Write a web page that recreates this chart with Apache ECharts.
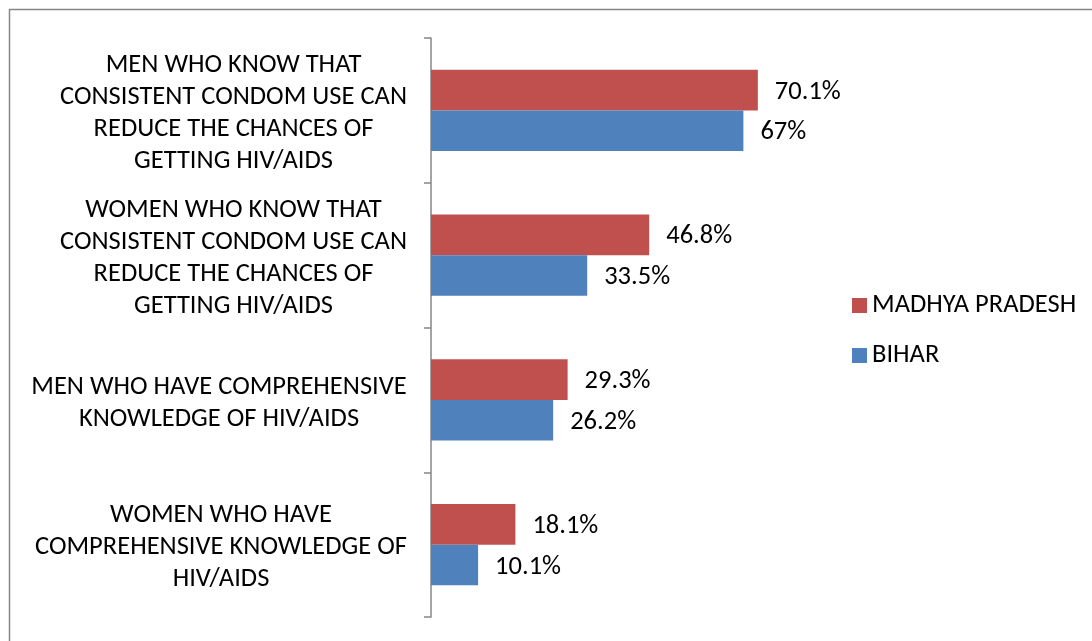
<!DOCTYPE html>
<html><head><meta charset="utf-8">
<script src="https://cdn.jsdelivr.net/npm/echarts@6/dist/echarts.min.js"></script>
<style>html,body{margin:0;padding:0;background:#fff}#c{width:1092px;height:641px}</style>
</head><body><div id="c"></div>
<script>
const categories = [
  "MEN WHO KNOW THAT\nCONSISTENT CONDOM USE CAN\nREDUCE THE CHANCES OF\nGETTING HIV/AIDS",
  "WOMEN WHO KNOW THAT\nCONSISTENT CONDOM USE CAN\nREDUCE THE CHANCES OF\nGETTING HIV/AIDS",
  "MEN WHO HAVE COMPREHENSIVE\nKNOWLEDGE OF HIV/AIDS",
  "WOMEN WHO HAVE\nCOMPREHENSIVE KNOWLEDGE OF\nHIV/AIDS"
];
const seriesNames = ["MADHYA PRADESH", "BIHAR"];
const madhyaPradesh = [70.1, 46.8, 29.3, 18.1];
const bihar = [67, 33.5, 26.2, 10.1];

const FONT = "Carlito, Calibri, 'Open Sans', sans-serif";
const FS = 26.5;
const ctx = document.createElement('canvas').getContext('2d');
ctx.font = FS + 'px ' + FONT;
const rich = {};
categories.forEach((c, i) => {
  const w = Math.max(...c.split('\n').map(l => ctx.measureText(l).width));
  rich['w' + i] = { width: Math.ceil(w), align: 'center', fontSize: FS, fontFamily: FONT, color: '#000', lineHeight: 32 };
});

const labelStyle = {
  show: true, position: 'right', distance: 17, offset: [0, 2],
  formatter: p => p.value + '%', fontSize: FS, fontFamily: FONT, color: '#000'
};

const chart = echarts.init(document.getElementById('c'), null, { renderer: 'canvas' });
chart.setOption({
  animation: false,
  backgroundColor: '#fff',
  graphic: [{
    type: 'rect', silent: true, z: -1,
    shape: { x: 9.5, y: 9.5, width: 1200, height: 800 },
    style: { fill: 'none', stroke: '#868686', lineWidth: 1.5 }
  }],
  grid: { left: 431, top: 38, bottom: 24, width: 373, containLabel: false },
  legend: {
    orient: 'vertical', left: 847, top: 287,
    data: seriesNames,
    icon: 'rect', itemWidth: 15, itemHeight: 15, itemGap: 23,
    textStyle: { fontSize: FS, fontFamily: FONT, color: '#000', padding: [0, 0, 0, 0] }
  },
  xAxis: {
    type: 'value', min: 0, max: 80,
    show: false, splitLine: { show: false }
  },
  yAxis: {
    type: 'category', data: categories, inverse: true,
    axisLine: { show: true, lineStyle: { color: '#868686', width: 1.5 } },
    axisTick: { show: true, length: 7, lineStyle: { color: '#868686', width: 1.5 } },
    axisLabel: {
      margin: 24, align: 'right', padding: [6, 0, 0, 0],
      formatter: (v, i) => v.split('\n').map(l => '{w' + i + '|' + l + '}').join('\n'),
      rich: rich
    }
  },
  series: [
    {
      name: seriesNames[0], type: 'bar', data: madhyaPradesh,
      itemStyle: { color: '#C0504D' }, barGap: '0%', barCategoryGap: '44%',
      label: labelStyle
    },
    {
      name: seriesNames[1], type: 'bar', data: bihar,
      itemStyle: { color: '#4F81BD' }, barGap: '0%', barCategoryGap: '44%',
      label: labelStyle
    }
  ]
});
</script></body></html>
